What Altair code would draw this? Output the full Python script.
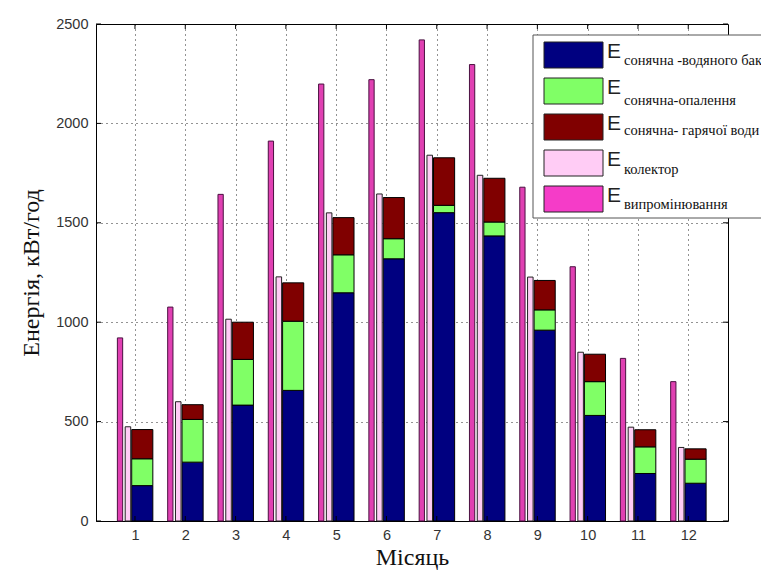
import altair as alt
import pandas as pd

# Monthly energy balance, kWh
months = list(range(1, 13))
e_tank = [178, 296, 583, 657, 1148, 1319, 1551, 1434, 960, 531, 239, 190]
e_heating = [135, 215, 230, 348, 191, 101, 37, 70, 102, 170, 134, 121]
e_hot_water = [147, 74, 187, 193, 187, 207, 239, 220, 148, 138, 86, 52]
e_collector = [474, 600, 1015, 1228, 1550, 1645, 1840, 1739, 1227, 849, 472, 370]
e_radiation = [921, 1076, 1643, 1911, 2198, 2220, 2420, 2296, 1679, 1279, 818, 701]

y_ticks = [0, 500, 1000, 1500, 2000, 2500]

legend_subs = [
    "сонячна -водяного бака",
    "сонячна-опалення",
    "сонячна- гарячої води",
    "колектор",
    "випромінювання",
]
series_colors = ["#000080", "#80FF66", "#800000", "#FFCCF5", "#F53CC8"]

W, H = 632, 497
X_DOMAIN = [0.225, 12.79]

# stacked components (tank / heating / hot water)
stack_rows = []
for i, m in enumerate(months):
    base = 0
    for name, vals in zip(legend_subs[:3], [e_tank, e_heating, e_hot_water]):
        stack_rows.append({"month": m, "series": name, "y0": base, "y1": base + vals[i]})
        base += vals[i]
stack_df = pd.DataFrame(stack_rows)

single_df = pd.DataFrame({"month": months, "collector": e_collector, "radiation": e_radiation})

xs = alt.Scale(domain=X_DOMAIN, nice=False, zero=False)
ys = alt.Scale(domain=[0, 2500], nice=False)

x_axis = alt.Axis(
    values=months, format="d", title="Місяць", grid=True, ticks=False, domain=False,
    labelFont="Liberation Sans", labelFontSize=14.5, labelColor="#333", labelPadding=7,
    titleFont="Liberation Serif", titleFontSize=24, titleFontWeight="normal",
    titleColor="#111", titlePadding=4,
    gridColor="#000", gridDash=[1, 4], gridOpacity=0.85,
)
y_axis = alt.Axis(
    values=y_ticks, format="d", title="Енергія, кВт/год", grid=True, ticks=False, domain=False,
    labelFont="Liberation Sans", labelFontSize=14.5, labelColor="#333", labelPadding=8,
    titleFont="Liberation Serif", titleFontSize=24, titleFontWeight="normal",
    titleColor="#111", titlePadding=12,
    gridColor="#000", gridDash=[1, 4], gridOpacity=0.85,
)

stacked = alt.Chart(stack_df).mark_bar(stroke="black", strokeWidth=1).transform_calculate(
    xa="datum.month - 0.065", xb="datum.month + 0.355"
).encode(
    x=alt.X("xa:Q", scale=xs, axis=x_axis),
    x2="xb:Q",
    y=alt.Y("y0:Q", scale=ys, axis=y_axis),
    y2="y1:Q",
    color=alt.Color("series:N", scale=alt.Scale(domain=legend_subs, range=series_colors), legend=None),
)

collector = alt.Chart(single_df).mark_bar(
    fill=series_colors[3], stroke="#222", strokeWidth=1
).transform_calculate(
    xa="datum.month - 0.195", xb="datum.month - 0.085", y0="0"
).encode(
    x=alt.X("xa:Q", scale=xs), x2="xb:Q",
    y=alt.Y("y0:Q", scale=ys), y2="collector:Q",
)

radiation = alt.Chart(single_df).mark_bar(
    fill="#E040B2", stroke="#4a1040", strokeWidth=1
).transform_calculate(
    xa="datum.month - 0.35", xb="datum.month - 0.245", y0="0"
).encode(
    x=alt.X("xa:Q", scale=xs), x2="xb:Q",
    y=alt.Y("y0:Q", scale=ys), y2="radiation:Q",
)

# inward tick marks on all four sides of the box
ytick_df = pd.DataFrame({"v": y_ticks})
xtick_df = pd.DataFrame({"m": months})
tick_left = alt.Chart(ytick_df).mark_rule(color="black").encode(
    y=alt.Y("v:Q", scale=ys), x=alt.value(0), x2=alt.value(5))
tick_right = alt.Chart(ytick_df).mark_rule(color="black").encode(
    y=alt.Y("v:Q", scale=ys), x=alt.value(W - 5), x2=alt.value(W))
tick_bottom = alt.Chart(xtick_df).mark_rule(color="black").encode(
    x=alt.X("m:Q", scale=xs), y=alt.value(H), y2=alt.value(H - 5))
tick_top = alt.Chart(xtick_df).mark_rule(color="black").encode(
    x=alt.X("m:Q", scale=xs), y=alt.value(0), y2=alt.value(5))

# legend box with "E" and subscripted names; it runs past the right edge
one = pd.DataFrame({"k": [0]})
legend_layers = [
    alt.Chart(one).mark_rect(fill="white", stroke="#555", strokeWidth=1).encode(
        x=alt.value(437), x2=alt.value(900), y=alt.value(11), y2=alt.value(194))
]
sub_offsets = [8, 12, 6, 9, 8]
for i, (sub, col) in enumerate(zip(legend_subs, series_colors)):
    top = 18 + 36 * i
    legend_layers.append(
        alt.Chart(one).mark_rect(fill=col, stroke="#222", strokeWidth=1).encode(
            x=alt.value(448), x2=alt.value(507), y=alt.value(top), y2=alt.value(top + 26)))
    legend_layers.append(
        alt.Chart(one).mark_text(
            align="left", baseline="alphabetic", font="Liberation Sans",
            fontSize=21, color="#222").encode(
            x=alt.value(511), y=alt.value(top + 16), text=alt.value("E")))
    legend_layers.append(
        alt.Chart(one).mark_text(
            align="left", baseline="alphabetic", font="Liberation Serif",
            fontSize=14.5, color="#111").encode(
            x=alt.value(528), y=alt.value(top + 15 + sub_offsets[i]), text=alt.value(sub)))

chart = alt.layer(
    stacked, collector, radiation,
    tick_left, tick_right, tick_bottom, tick_top,
    *legend_layers,
).properties(
    width=W, height=H,
    autosize=alt.AutoSizeParams(type="none"),
    padding={"left": 96, "top": 24, "right": 761 - 96 - W, "bottom": 574 - 24 - H},
    background="white",
).configure_view(stroke="black", strokeWidth=1)

chart.save("out.html", embed_options={"renderer": "svg", "actions": False})
